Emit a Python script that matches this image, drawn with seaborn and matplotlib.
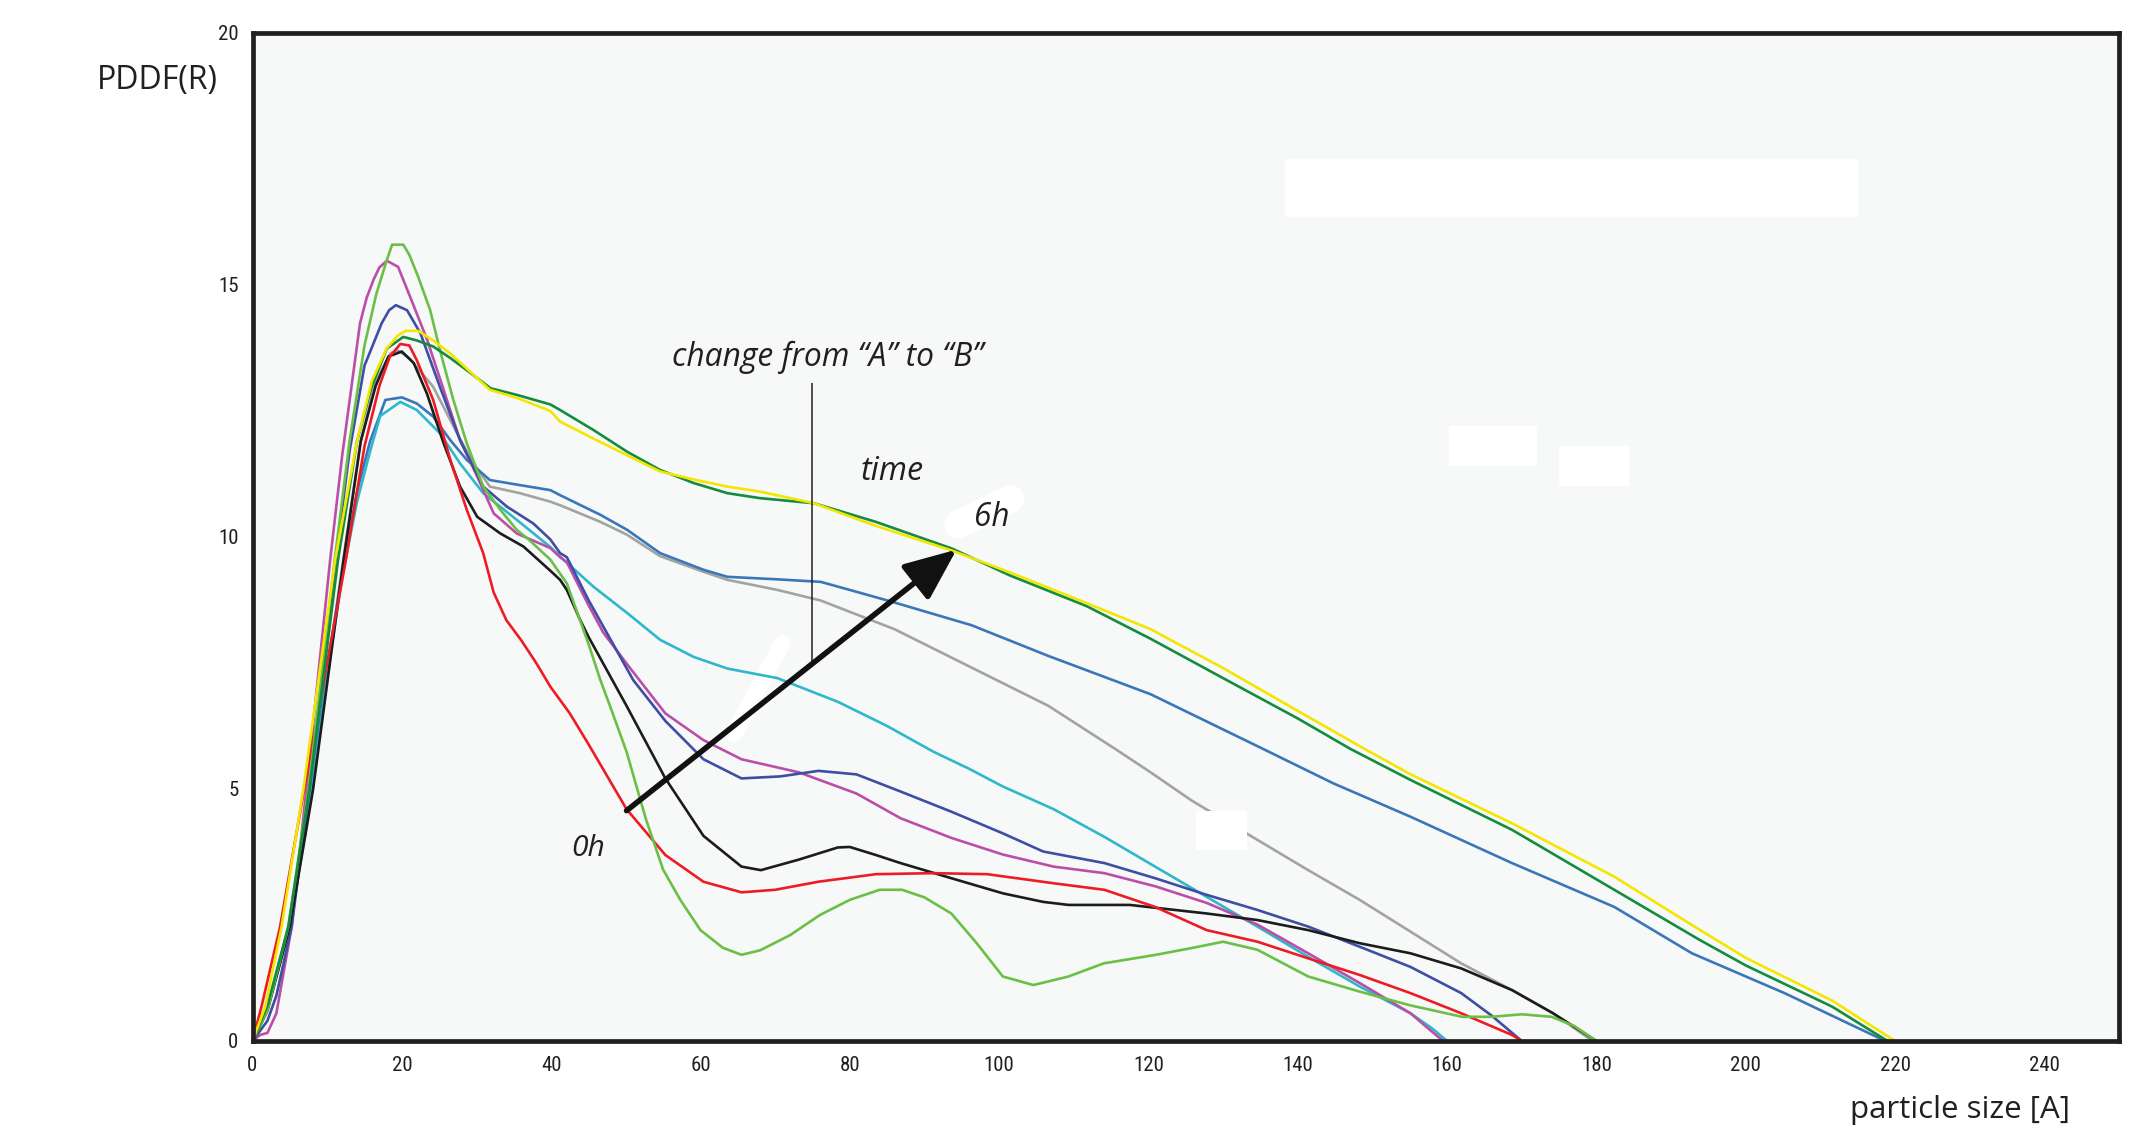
import numpy as np
import pandas as pd
import matplotlib
matplotlib.use("Agg")
import matplotlib.pyplot as plt
from matplotlib import font_manager
from matplotlib.patches import Rectangle
import seaborn as sns

# ---------------- data ----------------
gray_x = [0, 2, 4.9, 7.9, 10, 12, 14.5, 16.5, 18.5, 19.5, 21, 24.2, 27.4, 29.6, 31.8, 35.8, 39.9, 41.2, 46.6, 50.1, 54.6, 60.4, 63.6, 70.3, 76.1, 86, 96.3, 106.6, 115.5, 120.3, 125.7, 134.6, 141.4, 148.3, 155.1, 161.9, 168.7, 174.2, 179.5]
gray_y = [0, 0.65, 2.27, 4.98, 7.3, 9.4, 11.9, 13.1, 13.65, 13.7, 13.55, 12.98, 12.06, 11.46, 11.0, 10.87, 10.7, 10.63, 10.3, 10.05, 9.62, 9.31, 9.15, 8.95, 8.74, 8.17, 7.41, 6.65, 5.8, 5.33, 4.78, 3.99, 3.39, 2.80, 2.17, 1.54, 1.01, 0.55, 0]

steel_x = [0, 2, 4.9, 7.8, 10, 12, 14, 15.75, 17.8, 20, 22, 24.2, 26.5, 28.7, 31.8, 35.8, 39.9, 41.2, 46.6, 50.2, 54.6, 60.4, 63.6, 70.3, 76.1, 80, 86, 96.3, 106.6, 120.3, 134.6, 144.8, 155.1, 168.7, 182.4, 192.8, 205.2, 218.7]
steel_y = [0, 0.65, 2.27, 4.98, 7.4, 9.3, 10.9, 11.9, 12.72, 12.77, 12.65, 12.39, 11.92, 11.53, 11.13, 11.03, 10.93, 10.83, 10.44, 10.14, 9.68, 9.35, 9.21, 9.16, 9.11, 8.95, 8.70, 8.25, 7.64, 6.88, 5.85, 5.11, 4.45, 3.53, 2.66, 1.74, 0.95, 0]

cyan_x = [0, 2, 5, 8, 10, 12, 14, 15.75, 17.1, 19.8, 22, 25.1, 27.8, 30.9, 35.4, 39.9, 41.2, 45.7, 50.2, 54.6, 59.1, 63.6, 70.3, 78.4, 85, 91.2, 96, 100.5, 107.3, 114.1, 120.9, 127.8, 134.6, 141.4, 148.3, 155.1, 158, 160]
cyan_y = [0, 0.65, 2.27, 4.98, 7.2, 9.2, 10.7, 11.7, 12.4, 12.68, 12.52, 12.06, 11.46, 10.87, 10.34, 9.8, 9.61, 9.01, 8.49, 7.96, 7.62, 7.39, 7.2, 6.73, 6.25, 5.74, 5.4, 5.05, 4.6, 4.05, 3.46, 2.86, 2.27, 1.67, 1.08, 0.55, 0.25, 0]

magenta_x = [0, 1, 2, 3.2, 5.25, 7.2, 10.4, 12, 14.4, 15.3, 16.2, 17, 18, 19.5, 21.1, 23.4, 25.6, 27.8, 30.1, 32.3, 35.4, 39.9, 41.2, 42.1, 45, 47, 50.1, 52.3, 55.3, 60.4, 65.5, 73.2, 80.9, 86.8, 93.6, 100.5, 107.3, 114.1, 120.9, 127.8, 134.6, 141.4, 148.3, 155.1, 158.5, 159.5]
magenta_y = [0, 0.12, 0.16, 0.55, 2.27, 4.98, 9.54, 11.6, 14.24, 14.75, 15.1, 15.35, 15.48, 15.36, 14.77, 13.91, 12.92, 11.92, 11.2, 10.47, 10.07, 9.78, 9.6, 9.5, 8.65, 8.1, 7.49, 7.07, 6.5, 5.97, 5.59, 5.33, 4.91, 4.42, 4.03, 3.7, 3.46, 3.33, 3.07, 2.74, 2.31, 1.74, 1.15, 0.55, 0.12, 0]

blue_x = [0, 2, 3.2, 5.25, 7.6, 11.0, 13, 15, 17.3, 18.3, 19.2, 20.7, 22.5, 25.1, 27.8, 30.9, 34.1, 37.6, 39.9, 41.2, 42.1, 45, 51, 55.3, 60.4, 65.5, 70.7, 75.8, 80.9, 86.8, 93.6, 100.5, 105.9, 114.1, 120.9, 127.8, 134.6, 141.4, 148.3, 155.1, 161.9, 166, 170]
blue_y = [0, 0.4, 0.9, 2.27, 4.98, 9.4, 11.7, 13.4, 14.24, 14.5, 14.6, 14.5, 14.04, 12.98, 11.92, 11.0, 10.6, 10.27, 9.95, 9.68, 9.6, 8.75, 7.16, 6.35, 5.59, 5.21, 5.25, 5.36, 5.29, 4.95, 4.55, 4.12, 3.76, 3.53, 3.23, 2.9, 2.6, 2.27, 1.87, 1.47, 0.95, 0.5, 0]

black_x = [0, 2, 5.0, 8.1, 12.2, 14.5, 16.5, 18.2, 20, 21.6, 23.35, 25.6, 27.8, 30.1, 33.2, 36.3, 39.9, 41.2, 42.1, 43.9, 45, 50.1, 55.3, 60.4, 65.5, 68.1, 73.2, 78.4, 80, 83.5, 86.8, 93.6, 100.5, 105.9, 109.3, 117.5, 127.8, 134.6, 141.4, 148.3, 155.1, 161.9, 168.7, 174.2, 180]
black_y = [0, 0.6, 2.27, 4.98, 9.54, 11.9, 13.0, 13.58, 13.68, 13.45, 12.85, 11.86, 11.0, 10.4, 10.07, 9.81, 9.33, 9.15, 8.95, 8.35, 8.02, 6.65, 5.21, 4.07, 3.46, 3.39, 3.6, 3.84, 3.85, 3.69, 3.53, 3.23, 2.93, 2.76, 2.70, 2.70, 2.53, 2.4, 2.2, 1.94, 1.74, 1.44, 1.01, 0.55, 0]

red_x = [0, 1.2, 3.7, 6.9, 9.5, 12.5, 15, 17, 18.4, 19.8, 21, 22, 24.2, 26.5, 28.7, 30.9, 32.3, 34, 36, 38, 39.9, 42.5, 45, 50.1, 55.3, 60.4, 65.5, 70, 75.8, 83.5, 91.2, 98.4, 107.3, 114.1, 120.9, 127.8, 134.6, 141.4, 148.3, 155.1, 161.9, 168.7, 170]
red_y = [0, 0.68, 2.27, 4.98, 7.1, 9.54, 11.8, 13.0, 13.58, 13.83, 13.8, 13.51, 12.72, 11.53, 10.54, 9.68, 8.9, 8.35, 7.95, 7.5, 7.03, 6.5, 5.89, 4.6, 3.69, 3.16, 2.95, 3.0, 3.16, 3.31, 3.33, 3.31, 3.13, 3.0, 2.66, 2.2, 1.97, 1.64, 1.31, 0.95, 0.55, 0.12, 0]

lgreen_x = [0, 2, 4.8, 7.5, 11.0, 13, 15, 16.6, 18, 18.7, 20.2, 21, 22.2, 23.8, 25.1, 26.9, 28.7, 30.9, 33.2, 35.4, 37, 39.9, 42.1, 45, 46.6, 48, 50.1, 52.7, 55, 57.3, 60, 63, 65.5, 68, 72, 76, 80, 84, 87, 90, 93.6, 97, 100.5, 104.6, 109.3, 114, 121, 126, 130, 134.6, 141.4, 148.3, 155, 162, 166, 170, 174, 177, 180]
lgreen_y = [0, 0.6, 2.27, 4.98, 9.54, 11.9, 13.8, 14.83, 15.5, 15.8, 15.8, 15.6, 15.16, 14.5, 13.71, 12.72, 11.86, 11.0, 10.54, 10.14, 9.95, 9.55, 9.08, 7.88, 7.16, 6.6, 5.74, 4.4, 3.4, 2.8, 2.2, 1.85, 1.71, 1.8, 2.1, 2.5, 2.8, 3.0, 3.0, 2.85, 2.53, 1.94, 1.28, 1.11, 1.28, 1.54, 1.71, 1.85, 1.97, 1.81, 1.28, 0.98, 0.71, 0.48, 0.48, 0.53, 0.48, 0.3, 0]

dgreen_x = [0, 2, 4.8, 7.6, 11.45, 14, 16, 18, 20.2, 22, 24.2, 26.5, 28.7, 31.9, 35.4, 39.9, 41.2, 45.7, 50.2, 54.6, 59.1, 63.6, 68.0, 75.2, 83.5, 93.7, 101.4, 111.7, 120.3, 130, 140, 147, 155.1, 168.7, 182.4, 193.9, 200, 211.6, 219]
dgreen_y = [0, 0.7, 2.27, 4.98, 9.54, 11.9, 13.0, 13.74, 13.97, 13.9, 13.78, 13.55, 13.31, 12.95, 12.82, 12.63, 12.52, 12.12, 11.69, 11.33, 11.07, 10.87, 10.77, 10.67, 10.3, 9.77, 9.24, 8.63, 7.98, 7.2, 6.4, 5.8, 5.18, 4.19, 3.0, 2.0, 1.5, 0.68, 0]

yellow_x = [0, 1.7, 3.9, 6.8, 11.06, 14, 16, 18, 19.5, 20.5, 22.2, 24.2, 26.5, 29, 31.8, 35.4, 39.9, 41.2, 45.7, 50.2, 54.6, 59.1, 63.6, 68.0, 75.2, 83.5, 93.7, 101.4, 111.7, 120.3, 130, 140, 148.3, 155, 168.7, 182.4, 193.9, 200, 211.6, 220]
yellow_y = [0, 0.68, 2.27, 4.98, 9.54, 11.9, 13.1, 13.75, 14.0, 14.09, 14.09, 13.9, 13.64, 13.3, 12.92, 12.76, 12.5, 12.29, 11.95, 11.62, 11.3, 11.14, 11.0, 10.9, 10.67, 10.22, 9.73, 9.3, 8.69, 8.17, 7.4, 6.55, 5.85, 5.3, 4.32, 3.26, 2.2, 1.65, 0.8, 0]

series_names = ["gray", "steel", "cyan", "magenta", "blue", "black", "red", "lgreen", "dgreen", "yellow"]
series_data = {
    "gray": (gray_x, gray_y), "steel": (steel_x, steel_y), "cyan": (cyan_x, cyan_y),
    "magenta": (magenta_x, magenta_y), "blue": (blue_x, blue_y), "black": (black_x, black_y),
    "red": (red_x, red_y), "lgreen": (lgreen_x, lgreen_y), "dgreen": (dgreen_x, dgreen_y),
    "yellow": (yellow_x, yellow_y),
}
palette = {
    "gray": "#a3a3a3", "steel": "#3a77b8", "cyan": "#2fb7cc", "magenta": "#bb4fa8",
    "blue": "#3e4ea3", "black": "#1c1c1c", "red": "#ed1c24", "lgreen": "#6cbf46",
    "dgreen": "#138c3e", "yellow": "#f3e600",
}

x_ticks = [0, 20, 40, 60, 80, 100, 120, 140, 160, 180, 200, 220, 240]
y_ticks = [0, 5, 10, 15, 20]

rows = []
for name in series_names:
    xs, ys = series_data[name]
    for i, (xv, yv) in enumerate(zip(xs, ys)):
        rows.append({"R": xv, "PDDF": yv, "series": name, "order": i})
df = pd.DataFrame(rows)

# ---------------- style ----------------
sns.set_style("white")


def available(name):
    try:
        font_manager.findfont(font_manager.FontProperties(family=name), fallback_to_default=False)
        return True
    except Exception:
        return False


tick_font = next((f for f in ["Liberation Sans Narrow", "Roboto Condensed", "DejaVu Sans Condensed", "Open Sans"] if available(f)), "DejaVu Sans")
text_font = next((f for f in ["Open Sans", "Lato", "Noto Sans"] if available(f)), "DejaVu Sans")
plt.rcParams["font.family"] = [text_font, "DejaVu Sans"]

W, H = 2151, 1128
fig = plt.figure(figsize=(W / 100, H / 100), dpi=100)
fig.patch.set_facecolor("white")
ax = fig.add_axes([252.5 / W, (H - 1041) / H, (2119 - 252.5) / W, (1041 - 33) / H])
ax.set_facecolor("#f7f8f8")

sns.lineplot(data=df, x="R", y="PDDF", hue="series", hue_order=series_names,
             palette=palette, units="series", estimator=None, sort=False,
             linewidth=1.9, legend=False, ax=ax)

ax.set_xlim(0, 250)
ax.set_ylim(0, 20)
ax.set_xticks(x_ticks)
ax.set_yticks(y_ticks)
ax.set_xlabel("")
ax.set_ylabel("")
for sp in ax.spines.values():
    sp.set_visible(True)
    sp.set_linewidth(3.4)
    sp.set_color("#231f20")
ax.tick_params(axis="both", which="major", direction="out", length=7, width=3,
               color="#231f20", labelcolor="#231f20", labelsize=15, pad=4)
ax.tick_params(axis="y", pad=3)
for lab in ax.get_xticklabels() + ax.get_yticklabels():
    lab.set_fontfamily([tick_font, "DejaVu Sans"])

# white cover patches seen on the reference
for (x0, x1, y0, y1) in [(138.3, 215.1, 16.34, 17.5), (160.3, 172.1, 11.41, 12.21),
                         (175.0, 184.4, 11.02, 11.81), (126.4, 133.2, 3.78, 4.56)]:
    ax.add_patch(Rectangle((x0, y0), x1 - x0, y1 - y0, facecolor="white",
                           edgecolor="none", zorder=6))
ax.plot([64.5, 71], [6.1, 7.9], color="white", lw=12, solid_capstyle="round", zorder=1.5)
ax.plot([94.5, 101.5], [10.25, 10.75], color="white", lw=20, solid_capstyle="round", zorder=1.5)

# annotations
ax.vlines(75.0, 7.53, 13.05, color="#231f20", lw=1.1, zorder=7)
ax.annotate("", xy=(94.3, 9.75), xytext=(50.1, 4.57),
            arrowprops=dict(arrowstyle="-|>,head_length=1.6,head_width=0.68",
                            mutation_scale=20, lw=4, color="#111111",
                            shrinkA=0, shrinkB=0), zorder=8)

t1 = ax.text(77.0, 13.56, "change from \u201cA\u201d to \u201cB\u201d", ha="center", va="center",
             fontsize=20, style="italic", color="#231f20", zorder=9)
t2 = ax.text(85.7, 11.29, "time", ha="center", va="center", fontsize=20,
             style="italic", color="#231f20", zorder=9)
t3 = ax.text(99.0, 10.38, "6h", ha="center", va="center", fontsize=20,
             style="italic", color="#231f20", zorder=9)
t4 = ax.text(45.0, 3.81, "0h", ha="center", va="center", fontsize=20,
             style="italic", color="#231f20", zorder=9)
t5 = fig.text(218 / W, 1 - 81 / H, "PDDF(R)", ha="right", va="center",
              fontsize=22, color="#231f20")
t6 = fig.text(1960 / W, 1 - 1110 / H, "particle size [A]", ha="center", va="center",
              fontsize=20, color="#231f20")

fig.canvas.draw()
r = fig.canvas.get_renderer()
for t, w in [(t1, 311), (t2, 63), (t3, 35.5), (t4, 33.7), (t5, 121), (t6, 220)]:
    bb = t.get_window_extent(r)
    if bb.width > 0:
        t.set_fontsize(t.get_fontsize() * w / bb.width)

fig.savefig("out.png", dpi=100, facecolor="white")
